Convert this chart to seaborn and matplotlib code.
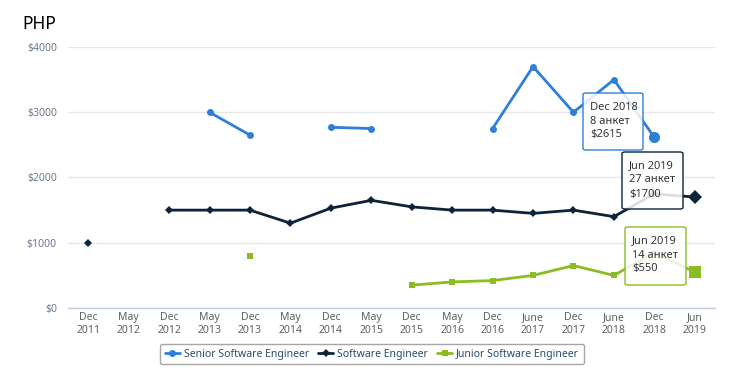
import numpy as np
import pandas as pd
import matplotlib
matplotlib.use("Agg")
import matplotlib.pyplot as plt
from matplotlib.lines import Line2D
from matplotlib.patches import FancyBboxPatch
import seaborn as sns

# chart data
periods = ["Dec\n2011", "May\n2012", "Dec\n2012", "May\n2013", "Dec\n2013", "May\n2014",
           "Dec\n2014", "May\n2015", "Dec\n2015", "May\n2016", "Dec\n2016", "June\n2017",
           "Dec\n2017", "June\n2018", "Dec\n2018", "Jun\n2019"]
senior = [np.nan, np.nan, np.nan, 3000, 2650, np.nan, 2770, 2750, np.nan, np.nan,
          2750, 3700, 3000, 3500, 2615, np.nan]
middle = [1000, np.nan, 1500, 1500, 1500, 1300, 1530, 1650, 1550, 1500,
          1500, 1450, 1500, 1400, 1750, 1700]
junior = [np.nan, np.nan, np.nan, np.nan, 800, np.nan, np.nan, np.nan, 350, 400,
          420, 500, 650, 500, 850, 550]
series_names = ["Senior Software Engineer", "Software Engineer", "Junior Software Engineer"]
colors = ["#2f7ed8", "#0d233a", "#8bbc21"]
markers = ["o", "D", "s"]
msizes = [5, 4.5, 5]

# tooltips shown in the picture (text lines, box in pixels, series index)
tips = [(["Dec 2018", "8 анкет", "$2615"], (583, 93, 643, 150), 0),
        (["Jun 2019", "27 анкет", "$1700"], (622, 152, 683, 209), 1),
        (["Jun 2019", "14 анкет", "$550"], (625, 227, 686, 285), 2)]
hover = [(14, 2615, 0), (15, 1700, 1), (15, 550, 2)]

sns.set_style("white")
plt.rcParams['font.family'] = ['Noto Sans', 'DejaVu Sans']

W, H = 745, 388
fig = plt.figure(figsize=(W / 100, H / 100), dpi=100)
ax = fig.add_axes([68 / W, 1 - 308 / H, (715 - 68) / W, (308 - 47) / H])

frames = []
for name, vals in zip(series_names, [senior, middle, junior]):
    df = pd.DataFrame({"x": np.arange(len(periods)), "value": vals})
    df["seg"] = df["value"].isna().cumsum()
    df["series"] = name
    frames.append(df.dropna())
data = pd.concat(frames)

for name, c, m, ms in zip(series_names, colors, markers, msizes):
    sub = data[data["series"] == name]
    sns.lineplot(data=sub, x="x", y="value", units="seg", estimator=None, ax=ax,
                 color=c, marker=m, markersize=ms, markeredgewidth=0, lw=2, legend=False)

for xi, yv, i in hover:
    ax.plot(xi, yv, marker=markers[i], color=colors[i], markersize=msizes[i] + 3,
            markeredgewidth=0, zorder=5)

ax.set_xlim(-0.5, len(periods) - 0.5)
ax.set_ylim(0, 4000)
ax.set_xticks(np.arange(len(periods)))
ax.set_xticklabels(periods, fontsize=7.5, color="#606060", linespacing=1.2)
ax.set_xticks(np.arange(len(periods) + 1) - 0.5, minor=True)
ax.tick_params(axis="x", which="major", length=0, pad=3)
ax.tick_params(axis="x", which="minor", length=4, color="#c0d0e0", width=1)
ax.set_yticks([0, 1000, 2000, 3000, 4000])
ax.set_yticklabels(["$0", "$1000", "$2000", "$3000", "$4000"], fontsize=7.5, color="#6b7a8f")
ax.tick_params(axis="y", length=0, pad=8)
ax.grid(axis="y", color="#e6e6e6", lw=1)
ax.set_axisbelow(True)
ax.set_xlabel("")
ax.set_ylabel("")
for s in ["top", "right", "left"]:
    ax.spines[s].set_visible(False)
ax.spines["bottom"].set_color("#c0d0e0")
ax.spines["bottom"].set_linewidth(1)

fig.text(22 / W, 1 - 24 / H, "PHP", fontsize=12.5, color="black", va="center", ha="left")

for lines, (x0, y0, x1, y1), i in tips:
    box = FancyBboxPatch((x0 / W, 1 - y1 / H), (x1 - x0) / W, (y1 - y0) / H,
                         boxstyle="round,pad=0,rounding_size=0.004",
                         transform=fig.transFigure, fc=(1, 1, 1, 0.85), ec=colors[i],
                         lw=1, zorder=10)
    fig.patches.append(box)
    for k, line in enumerate(lines):
        fig.text((x0 + 7) / W, 1 - (y0 + 14 + 14 * k) / H, line, fontsize=8,
                 color="#333333", va="center", ha="left", zorder=11)

handles = [Line2D([0], [0], color=c, marker=m, markersize=ms, markeredgewidth=0, lw=2)
           for c, m, ms in zip(colors, markers, msizes)]
leg = fig.legend(handles, series_names, loc="center", bbox_to_anchor=(372 / W, 1 - 354 / H),
                 ncol=3, fontsize=7.5, frameon=True, handlelength=1.4, handletextpad=0.4,
                 columnspacing=0.9, borderpad=0.45, fancybox=True)
leg.get_frame().set_edgecolor("#909090")
leg.get_frame().set_linewidth(1)
for t in leg.get_texts():
    t.set_color("#274b6d")

fig.savefig("out.png", dpi=100)
